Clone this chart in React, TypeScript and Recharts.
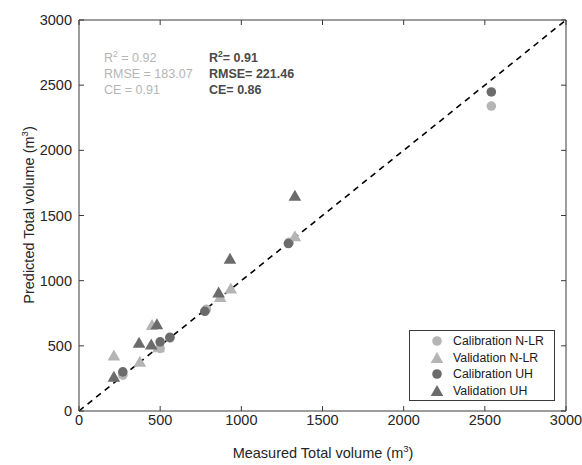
import {
  ReferenceLine,
  Scatter,
  ScatterChart,
  XAxis,
  YAxis,
} from 'recharts'

// measured vs predicted total volume (m3)
const CAL_NLR_MEASURED = [270, 500, 560, 785, 1295, 2540]
const CAL_NLR_PREDICTED = [275, 480, 560, 780, 1295, 2340]
const VAL_NLR_MEASURED = [215, 375, 450, 490, 870, 935, 1330]
const VAL_NLR_PREDICTED = [425, 378, 660, 490, 875, 940, 1340]
const CAL_UH_MEASURED = [270, 500, 560, 775, 1290, 2540]
const CAL_UH_PREDICTED = [300, 530, 565, 765, 1285, 2448]
const VAL_UH_MEASURED = [215, 370, 445, 480, 860, 930, 1330]
const VAL_UH_PREDICTED = [262, 523, 510, 665, 910, 1168, 1652]

const AXIS_TICKS = [0, 500, 1000, 1500, 2000, 2500, 3000]
const SERIES_NAMES = [
  'Calibration N-LR',
  'Validation N-LR',
  'Calibration UH',
  'Validation UH',
]

const LIGHT = '#b5b5b5'
const DARK = '#6b6b6b'
const AXIS = '#3a3a3a'
const FONT = '"Liberation Sans", Arial, Helvetica, sans-serif'

const toPoints = (xs: number[], ys: number[]) =>
  xs.map((x, i) => ({ x, y: ys[i] }))

const calNlr = toPoints(CAL_NLR_MEASURED, CAL_NLR_PREDICTED)
const valNlr = toPoints(VAL_NLR_MEASURED, VAL_NLR_PREDICTED)
const calUh = toPoints(CAL_UH_MEASURED, CAL_UH_PREDICTED)
const valUh = toPoints(VAL_UH_MEASURED, VAL_UH_PREDICTED)

const circle = (fill: string) => (p: any) => (
  <circle cx={p.cx} cy={p.cy} r={4.8} fill={fill} />
)
const triangle = (fill: string) => (p: any) => (
  <polygon
    points={`${p.cx},${p.cy - 6} ${p.cx - 6.3},${p.cy + 5} ${p.cx + 6.3},${p.cy + 5}`}
    fill={fill}
  />
)
const nothing = () => <g />

const TICK_GAP = 4
const TICK_LEN = 5

const BottomTick = (p: any) => {
  const ay = p.y - TICK_GAP
  return (
    <g>
      <line x1={p.x} y1={ay} x2={p.x} y2={ay - TICK_LEN} stroke={AXIS} />
      <text
        x={p.x}
        y={p.y}
        dy='0.71em'
        textAnchor='middle'
        fill='#262626'
        fontSize={14.5}
        fontFamily={FONT}
      >
        {p.payload.value}
      </text>
    </g>
  )
}

const LeftTick = (p: any) => {
  const ax = p.x + 7
  return (
    <g>
      <line x1={ax} y1={p.y} x2={ax + TICK_LEN} y2={p.y} stroke={AXIS} />
      <text
        x={p.x}
        y={p.y}
        dy='0.355em'
        textAnchor='end'
        fill='#262626'
        fontSize={14.5}
        fontFamily={FONT}
      >
        {p.payload.value}
      </text>
    </g>
  )
}

const TopTick = (p: any) => (
  <line x1={p.x} y1={p.y} x2={p.x} y2={p.y + TICK_LEN} stroke={AXIS} />
)
const RightTick = (p: any) => (
  <line x1={p.x} y1={p.y} x2={p.x - TICK_LEN} y2={p.y} stroke={AXIS} />
)

const legendIcons = [
  <circle cx={7} cy={7} r={4.8} fill={LIGHT} />,
  <polygon points='7,1 0.7,12 13.3,12' fill={LIGHT} />,
  <circle cx={7} cy={7} r={4.8} fill={DARK} />,
  <polygon points='7,1 0.7,12 13.3,12' fill={DARK} />,
]

const statStyle = {
  position: 'absolute' as const,
  fontFamily: FONT,
  fontSize: 12.5,
  lineHeight: '16px',
  whiteSpace: 'nowrap' as const,
}

export default function App() {
  return (
    <div
      style={{
        position: 'absolute',
        left: 0,
        top: 0,
        width: 582,
        height: 465,
        background: '#fff',
        fontFamily: FONT,
      }}
    >
      <ScatterChart
        width={582}
        height={465}
        margin={{ top: 19, right: 15, left: 0, bottom: 0 }}
      >
        <XAxis
          xAxisId='b'
          type='number'
          dataKey='x'
          domain={[0, 3000]}
          ticks={AXIS_TICKS}
          height={54}
          tickSize={0}
          tickMargin={TICK_GAP}
          tickLine={false}
          stroke={AXIS}
          tick={<BottomTick />}
          allowDataOverflow
        />
        <XAxis
          xAxisId='t'
          orientation='top'
          type='number'
          dataKey='x'
          domain={[0, 3000]}
          ticks={AXIS_TICKS}
          height={1}
          tickSize={0}
          tickMargin={0}
          tickLine={false}
          stroke={AXIS}
          tick={<TopTick />}
          allowDataOverflow
        />
        <YAxis
          yAxisId='l'
          type='number'
          dataKey='y'
          domain={[0, 3000]}
          ticks={AXIS_TICKS}
          width={79}
          tickSize={0}
          tickMargin={7}
          tickLine={false}
          stroke={AXIS}
          tick={<LeftTick />}
          allowDataOverflow
        />
        <YAxis
          yAxisId='r'
          orientation='right'
          type='number'
          dataKey='y'
          domain={[0, 3000]}
          ticks={AXIS_TICKS}
          width={1}
          tickSize={0}
          tickMargin={0}
          tickLine={false}
          stroke={AXIS}
          tick={<RightTick />}
          allowDataOverflow
        />
        {/* invisible series so the mirrored box axes get drawn */}
        <Scatter
          data={calNlr}
          xAxisId='t'
          yAxisId='r'
          shape={nothing}
          legendType='none'
          isAnimationActive={false}
        />
        <Scatter
          name={SERIES_NAMES[0]}
          data={calNlr}
          xAxisId='b'
          yAxisId='l'
          shape={circle(LIGHT)}
          isAnimationActive={false}
        />
        <Scatter
          name={SERIES_NAMES[1]}
          data={valNlr}
          xAxisId='b'
          yAxisId='l'
          shape={triangle(LIGHT)}
          isAnimationActive={false}
        />
        <Scatter
          name={SERIES_NAMES[2]}
          data={calUh}
          xAxisId='b'
          yAxisId='l'
          shape={circle(DARK)}
          isAnimationActive={false}
        />
        <Scatter
          name={SERIES_NAMES[3]}
          data={valUh}
          xAxisId='b'
          yAxisId='l'
          shape={triangle(DARK)}
          isAnimationActive={false}
        />
        <ReferenceLine
          xAxisId='b'
          yAxisId='l'
          segment={[
            { x: 0, y: 0 },
            { x: 3000, y: 3000 },
          ]}
          stroke='#000'
          strokeWidth={1.6}
          strokeDasharray='6 5'
        />
      </ScatterChart>

      {/* fit statistics */}
      <div style={{ ...statStyle, left: 104, top: 46, color: LIGHT }}>
        <div>
          R<sup style={{ fontSize: 8.5 }}>2</sup> = 0.92
        </div>
        <div>RMSE = 183.07</div>
        <div>CE = 0.91</div>
      </div>
      <div
        style={{
          ...statStyle,
          left: 209,
          top: 46,
          color: '#4a4a4a',
          fontWeight: 'bold',
        }}
      >
        <div>
          R<sup style={{ fontSize: 8.5 }}>2</sup>= 0.91
        </div>
        <div>RMSE= 221.46</div>
        <div>CE= 0.86</div>
      </div>

      {/* legend */}
      <div
        style={{
          position: 'absolute',
          left: 409,
          top: 330,
          width: 144,
          height: 67,
          border: `1px solid ${AXIS}`,
          background: '#fff',
          paddingTop: 2,
          boxSizing: 'content-box',
        }}
      >
        {SERIES_NAMES.map((name, i) => (
          <div
            key={name}
            style={{
              display: 'flex',
              alignItems: 'center',
              height: 16.5,
              fontSize: 12.3,
              color: '#1a1a1a',
            }}
          >
            <svg width={14} height={14} style={{ marginLeft: 20, marginRight: 9 }}>
              {legendIcons[i]}
            </svg>
            <span>{name}</span>
          </div>
        ))}
      </div>

      {/* axis titles */}
      <div
        style={{
          position: 'absolute',
          left: 0,
          width: 646,
          top: 443,
          textAlign: 'center',
          fontSize: 14.5,
          color: '#262626',
          whiteSpace: 'nowrap',
        }}
      >
        Measured Total volume (m<sup style={{ fontSize: 9.5 }}>3</sup>)
      </div>
      <div
        style={{
          position: 'absolute',
          left: 28,
          top: 215,
          transform: 'translate(-50%, -50%) rotate(-90deg)',
          fontSize: 14.5,
          color: '#262626',
          whiteSpace: 'nowrap',
        }}
      >
        Predicted Total volume (m<sup style={{ fontSize: 9.5 }}>3</sup>)
      </div>
    </div>
  )
}
